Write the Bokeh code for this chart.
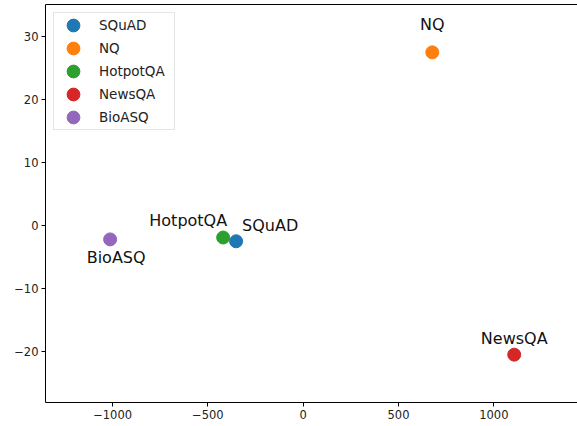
from bokeh.plotting import figure
from bokeh.models import (ColumnDataSource, Range1d, LinearAxis, FixedTicker,
                          Legend, LegendItem)
from bokeh.core.properties import value
from bokeh.embed import file_html
from bokeh.resources import INLINE

# ---- data ----
datasets = ["SQuAD", "NQ", "HotpotQA", "NewsQA", "BioASQ"]
x_vals = [-352, 677, -420, 1107, -1013]
y_vals = [-2.5, 27.5, -1.9, -20.5, -2.2]
colors = ["#1f77b4", "#ff7f0e", "#2ca02c", "#d62728", "#9467bd"]
x_ticks = [-1000, -500, 0, 500, 1000]
y_ticks = [-20, -10, 0, 10, 20, 30]

# label placement styles (pixel offsets relative to the point)
label_style = {
    "SQuAD":    dict(dx=6,  dy=-16, align="left",   base="alphabetic"),
    "NQ":       dict(dx=0,  dy=-28, align="center", base="alphabetic"),
    "HotpotQA": dict(dx=4,  dy=-17, align="right",  base="alphabetic"),
    "NewsQA":   dict(dx=0,  dy=-16, align="center", base="alphabetic"),
    "BioASQ":   dict(dx=6,  dy=9,   align="center", base="top"),
}

FONT = "DejaVu Sans"

p = figure(width=577, height=426, output_backend="svg", toolbar_location=None,
           x_range=Range1d(-1352, 1439), y_range=Range1d(-28.1, 35.1),
           min_border_left=45, min_border_right=0, min_border_top=4,
           min_border_bottom=24, x_axis_type=None, y_axis_type=None)
p.outline_line_color = None
p.grid.visible = False
p.background_fill_color = "white"

def style_axis(ax):
    ax.axis_line_color = "black"
    ax.axis_line_width = 1
    ax.major_tick_line_color = "black"
    ax.major_tick_out = 4
    ax.major_tick_in = 0
    ax.minor_tick_line_color = None
    ax.major_label_text_font = FONT
    ax.major_label_text_font_size = "11.5px"
    ax.major_label_text_color = "#222222"
    ax.major_label_standoff = 3

xa = LinearAxis(ticker=FixedTicker(ticks=x_ticks),
                major_label_overrides={t: str(t).replace("-", "\u2212") for t in x_ticks})
style_axis(xa)
p.add_layout(xa, "below")

ya = LinearAxis(ticker=FixedTicker(ticks=y_ticks),
                major_label_overrides={t: str(t).replace("-", "\u2212") for t in y_ticks})
style_axis(ya)
p.add_layout(ya, "left")

top = LinearAxis(ticker=FixedTicker(ticks=[]), axis_line_color="black",
                 major_tick_line_color=None, minor_tick_line_color=None,
                 major_label_text_font_size="0px", major_tick_out=0,
                 major_label_standoff=0)
p.add_layout(top, "above")

renderers = {}
draw_order = ["NQ", "NewsQA", "BioASQ", "HotpotQA", "SQuAD"]
for name in draw_order:
    i = datasets.index(name)
    src = ColumnDataSource(dict(x=[x_vals[i]], y=[y_vals[i]]))
    renderers[name] = p.ellipse("x", "y", source=src, width=13, height=13,
                                width_units="screen", height_units="screen",
                                fill_color=colors[i], line_color=colors[i])

lab = ColumnDataSource(dict(
    x=x_vals, y=y_vals, text=datasets,
    xo=[label_style[d]["dx"] for d in datasets],
    yo=[label_style[d]["dy"] for d in datasets],
    al=[label_style[d]["align"] for d in datasets],
    bl=[label_style[d]["base"] for d in datasets],
))
p.text("x", "y", text="text", source=lab, x_offset="xo", y_offset="yo",
       text_align="al", text_baseline="bl", text_font=value(FONT),
       text_font_size="16px", text_color="#111111")

legend = Legend(items=[LegendItem(label=d, renderers=[renderers[d]]) for d in datasets],
                location="top_left")
legend.margin = 8
legend.padding = 4
legend.spacing = 7
legend.glyph_height = 16
legend.glyph_width = 30
legend.label_height = 16
legend.label_width = 71
legend.label_standoff = 11
legend.label_text_font = FONT
legend.label_text_font_size = "13.5px"
legend.label_text_color = "#222222"
legend.border_line_color = "#cccccc"
legend.border_line_width = 1
legend.background_fill_color = "white"
legend.background_fill_alpha = 0.8
p.add_layout(legend, "center")

open("out.html", "w").write(file_html(p, INLINE))
